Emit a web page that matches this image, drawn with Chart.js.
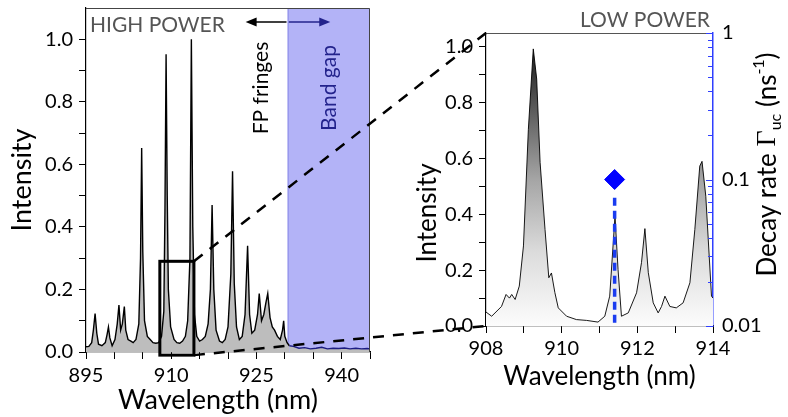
<!DOCTYPE html>
<html>
<head>
<meta charset="utf-8">
<script src="https://cdn.jsdelivr.net/npm/chart.js@4.4.1/dist/chart.umd.min.js"></script>
<style>
  body { margin: 0; background: #fff; }
  #cadre { position: relative; width: 788px; height: 417px; }
  canvas { position: absolute; left: 0; top: 0; }
</style>
</head>
<body>
<div id="cadre">
  <canvas id="hautePuissance" width="788" height="417"></canvas>
  <canvas id="bassePuissance" width="788" height="417"></canvas>
</div>
<script>
// spectre a haute puissance (longueur d'onde en nm, intensite normalisee)
const lambdaHaute = [895.0, 895.5, 896.0, 896.3, 896.6, 896.9, 897.2, 897.8, 898.4, 898.7,
  898.95, 899.2, 899.6, 900.1, 900.5, 900.8, 901.1, 901.4, 901.75, 902.0,
  902.4, 902.9, 903.3, 903.8, 904.3, 904.6, 904.8, 905.0, 905.3, 905.8,
  906.3, 906.8, 907.3, 907.8, 908.3, 908.7, 908.9, 909.1, 909.3, 909.5,
  909.9, 910.5, 911.0, 911.5, 912.0, 912.5, 912.9, 913.3, 913.55, 913.8,
  914.1, 914.5, 915.0, 915.5, 916.0, 916.5, 916.9, 917.2, 917.5, 917.9,
  918.5, 919.0, 919.5, 920.0, 920.5, 920.8, 921.1, 921.5, 922.0, 922.5,
  923.0, 923.45, 923.8, 924.2, 924.7, 925.2, 925.5, 925.9, 926.3, 926.7,
  927.0, 927.4, 927.8, 928.2, 928.7, 929.2, 929.6, 929.8, 930.0, 930.4,
  930.8, 931.5, 932.5, 933.5, 934.5, 935.5, 936.5, 937.5, 938.5, 939.5,
  940.5, 941.5, 942.5, 943.5, 944.5, 945.0];
const intensiteHaute = [0.017, 0.018, 0.03, 0.07, 0.123, 0.06, 0.025, 0.02, 0.03, 0.055,
  0.08, 0.045, 0.02, 0.04, 0.09, 0.15, 0.07, 0.09, 0.145, 0.07,
  0.04, 0.035, 0.03, 0.04, 0.09, 0.3, 0.652, 0.32, 0.1, 0.05,
  0.04, 0.03, 0.028, 0.03, 0.05, 0.13, 0.45, 0.952, 0.5, 0.2,
  0.08, 0.04, 0.03, 0.028, 0.035, 0.05, 0.1, 0.3, 1.0, 0.4,
  0.12, 0.05, 0.035, 0.04, 0.05, 0.09, 0.2, 0.47, 0.2, 0.07,
  0.035, 0.03, 0.04, 0.08, 0.25, 0.578, 0.22, 0.08, 0.04, 0.05,
  0.12, 0.34, 0.12, 0.06, 0.07, 0.12, 0.187, 0.1, 0.12, 0.16,
  0.187, 0.11, 0.08, 0.07, 0.05, 0.04, 0.07, 0.10, 0.05, 0.03,
  0.02, 0.018, 0.012, 0.014, 0.01, 0.012, 0.015, 0.01, 0.012, 0.011,
  0.013, 0.01, 0.012, 0.01, 0.011, 0.01];

// spectre a basse puissance (zoom 908-914 nm)
const lambdaBasse = [908.0, 908.15, 908.41, 908.53, 908.62, 908.68, 908.77, 908.88, 908.99, 909.12,
  909.25, 909.34, 909.43, 909.56, 909.66, 909.73, 909.82, 909.91, 910.13, 910.39,
  910.66, 910.96, 911.14, 911.27, 911.41, 911.49, 911.58, 911.76, 911.98, 912.11,
  912.2, 912.29, 912.42, 912.55, 912.64, 912.73, 912.86, 913.03, 913.21, 913.39,
  913.52, 913.65, 913.71, 913.81, 913.9, 913.96, 914.0];
const intensiteBasse = [0.05, 0.035, 0.07, 0.113, 0.10, 0.113, 0.095, 0.143, 0.287, 0.705,
  0.993, 0.885, 0.586, 0.346, 0.173, 0.19, 0.12, 0.065, 0.035, 0.023,
  0.02, 0.014, 0.035, 0.107, 0.394, 0.203, 0.035, 0.047, 0.119, 0.227,
  0.349, 0.191, 0.083, 0.047, 0.07, 0.107, 0.07, 0.065, 0.083, 0.155,
  0.346, 0.573, 0.59, 0.465, 0.25, 0.107, 0.1];

// taux de decroissance mesure (axe log de droite)
const lambdaMode = [911.4];
const tauxMode = [0.1];
const tauxBarre = [0.075, 0.01];

// graduations et etiquettes
const graduationsX1 = [895, 900, 905, 910, 915, 920, 925, 930, 935, 940, 945];
const etiquettesX1 = [895, 910, 925, 940];
const graduationsX2 = [908, 909, 910, 911, 912, 913, 914];
const etiquettesX2 = [908, 910, 912, 914];
const graduationsY = [0, 0.1, 0.2, 0.3, 0.4, 0.5, 0.6, 0.7, 0.8, 0.9, 1.0];
const etiquettesY = [0, 0.2, 0.4, 0.6, 0.8, 1.0];
const graduationsLog = [0.01, 0.02, 0.03, 0.04, 0.05, 0.06, 0.07, 0.08, 0.09,
  0.1, 0.2, 0.3, 0.4, 0.5, 0.6, 0.7, 0.8, 0.9, 1];
const etiquettesLog = [0.01, 0.1, 1];

// zones et annotations
const debutBandeInterdite = 930.5;
const fenetreZoom = [908, 914];
const fenetreIntensite = [-0.01, 0.29];
const flecheFP = [930.3, 923.1];
const flecheBande = [930.7, 938];

const police = 'Lato, "Open Sans", sans-serif';
Chart.defaults.font.family = police;
Chart.defaults.color = '#000';

// on force la taille des axes pour placer les zones de trace comme sur la figure
function tailleFixe(dim, val) {
    return s => {
        s[dim] = val;
        s.paddingTop = 0; s.paddingBottom = 0;
        s.paddingLeft = 0; s.paddingRight = 0;
    };
}

function fleche(ctx, x0, x1, y, couleur) {
    const dir = Math.sign(x1 - x0);
    ctx.strokeStyle = couleur;
    ctx.fillStyle = couleur;
    ctx.lineWidth = 1.5;
    ctx.beginPath();
    ctx.moveTo(x0, y);
    ctx.lineTo(x1 - dir * 8, y);
    ctx.stroke();
    ctx.beginPath();
    ctx.moveTo(x1, y);
    ctx.lineTo(x1 - dir * 11, y - 4.5);
    ctx.lineTo(x1 - dir * 11, y + 4.5);
    ctx.closePath();
    ctx.fill();
}

function texteVertical(ctx, texte, x, y, taille, couleur) {
    ctx.save();
    ctx.translate(x, y);
    ctx.rotate(-Math.PI / 2);
    ctx.font = taille + 'px ' + police;
    ctx.fillStyle = couleur;
    ctx.textAlign = 'center';
    ctx.textBaseline = 'middle';
    ctx.fillText(texte, 0, 0);
    ctx.restore();
}

const decorHaute = {
    id: 'decorHaute',
    beforeDatasetsDraw(chart) {
        const { ctx, chartArea, scales } = chart;
        const xb = scales.x.getPixelForValue(debutBandeInterdite);
        ctx.save();
        ctx.fillStyle = '#b3b3f7';
        ctx.fillRect(xb, chartArea.top, chartArea.right - xb, chartArea.bottom - chartArea.top);
        ctx.strokeStyle = '#8a8ae8';
        ctx.lineWidth = 1;
        ctx.beginPath();
        ctx.moveTo(xb + 0.5, chartArea.top);
        ctx.lineTo(xb + 0.5, chartArea.bottom);
        ctx.stroke();
        ctx.restore();
    },
    afterDraw(chart) {
        const { ctx, chartArea, scales } = chart;
        const x = scales.x, y = scales.y;
        ctx.save();
        // cadre haut et droit
        ctx.strokeStyle = '#444';
        ctx.lineWidth = 1;
        ctx.beginPath();
        ctx.moveTo(chartArea.left, chartArea.top + 0.5);
        ctx.lineTo(chartArea.right - 0.5, chartArea.top + 0.5);
        ctx.lineTo(chartArea.right - 0.5, chartArea.bottom);
        ctx.stroke();

        // rectangle de la zone agrandie
        ctx.strokeStyle = '#000';
        ctx.lineWidth = 3;
        const rx0 = x.getPixelForValue(fenetreZoom[0]), rx1 = x.getPixelForValue(fenetreZoom[1]);
        const ry0 = y.getPixelForValue(fenetreIntensite[1]), ry1 = y.getPixelForValue(fenetreIntensite[0]);
        ctx.strokeRect(rx0, ry0, rx1 - rx0, ry1 - ry0);

        // textes
        ctx.font = '21px ' + police;
        ctx.fillStyle = '#555';
        ctx.textAlign = 'left';
        ctx.textBaseline = 'middle';
        ctx.fillText('HIGH POWER', chartArea.left + 4, chartArea.top + 17);

        const yFleche = chartArea.top + 14;
        fleche(ctx, x.getPixelForValue(flecheFP[0]), x.getPixelForValue(flecheFP[1]), yFleche, '#000');
        fleche(ctx, x.getPixelForValue(flecheBande[0]), x.getPixelForValue(flecheBande[1]), yFleche, '#23238c');

        texteVertical(ctx, 'FP fringes', x.getPixelForValue(925.9), chartArea.top + 80, 21, '#000');
        texteVertical(ctx, 'Band gap', x.getPixelForValue(937.9), chartArea.top + 80, 21, '#23238c');

        ctx.font = '27px ' + police;
        ctx.fillStyle = '#000';
        ctx.textAlign = 'center';
        ctx.fillText('Wavelength (nm)', (chartArea.left + chartArea.right) / 2 - 10, chartArea.bottom + 48);
        ctx.restore();
    }
};

const graph1 = new Chart(document.getElementById('hautePuissance'), {
    type: 'line',
    data: {
        datasets: [{
            data: lambdaHaute.map((l, i) => ({ x: l, y: intensiteHaute[i] })),
            borderColor: '#000',
            borderWidth: 1.4,
            backgroundColor: '#bdbdbd',
            fill: 'origin',
            pointRadius: 0,
            tension: 0,
            segment: {
                borderColor: c => c.p0.parsed.x >= debutBandeInterdite ? '#1c1c84' : '#000'
            }
        }]
    },
    options: {
        responsive: false,
        animation: false,
        layout: { padding: { left: 0, top: 8, right: 418, bottom: 0 } },
        plugins: { legend: { display: false }, tooltip: { enabled: false } },
        scales: {
            x: {
                type: 'linear', min: 895, max: 945,
                afterBuildTicks: s => { s.ticks = graduationsX1.map(v => ({ value: v })); },
                afterFit: tailleFixe('height', 65),
                ticks: {
                    autoSkip: false, maxRotation: 0, padding: 5, font: { size: 20 },
                    callback: v => etiquettesX1.includes(v) ? String(v) : ''
                },
                grid: { drawOnChartArea: false, tickLength: 7, color: '#000' },
                border: { color: '#000', width: 1.2 }
            },
            y: {
                min: 0, max: 1.1,
                afterBuildTicks: s => { s.ticks = graduationsY.map(v => ({ value: v })); },
                afterFit: tailleFixe('width', 86),
                ticks: {
                    autoSkip: false, padding: 6, font: { size: 20 },
                    callback: v => etiquettesY.includes(v) ? v.toFixed(1) : ''
                },
                grid: { drawOnChartArea: false, tickLength: 7, color: '#000' },
                border: { color: '#000', width: 1.2 },
                title: { display: true, text: 'Intensity', font: { size: 27 }, padding: { top: 6 } }
            }
        }
    },
    plugins: [decorHaute]
});

const decorBasse = {
    id: 'decorBasse',
    afterDraw(chart) {
        const { ctx, chartArea, scales } = chart;
        ctx.save();
        // cadre haut gris
        ctx.strokeStyle = '#555';
        ctx.lineWidth = 1;
        ctx.beginPath();
        ctx.moveTo(chartArea.left, chartArea.top + 0.5);
        ctx.lineTo(chartArea.right, chartArea.top + 0.5);
        ctx.stroke();

        // graduations interieures de l'axe log
        const s = scales.y2;
        ctx.strokeStyle = '#2f3fff';
        s.ticks.forEach(t => {
            const py = Math.round(s.getPixelForValue(t.value)) + 0.5;
            const long = etiquettesLog.includes(t.value) ? 7 : 5;
            ctx.beginPath();
            ctx.moveTo(s.left, py);
            ctx.lineTo(s.left - long, py);
            ctx.stroke();
        });

        ctx.font = '21px ' + police;
        ctx.fillStyle = '#555';
        ctx.textAlign = 'right';
        ctx.textBaseline = 'middle';
        ctx.fillText('LOW POWER', chartArea.right - 3, chartArea.top - 13);

        texteVertical(ctx, 'Intensity', chartArea.left - 58, chartArea.top + 180, 26, '#000');

        // titre de l'axe de droite avec indice et exposant
        const morceaux = [
            { t: 'Decay rate ', f: '26px ' + police, dy: 0 },
            { t: 'Γ', f: '28px "Liberation Serif", serif', dy: 0 },
            { t: 'uc', f: '16px ' + police, dy: 8 },
            { t: ' (ns', f: '26px ' + police, dy: 0 },
            { t: '-1', f: '16px ' + police, dy: -9 },
            { t: ')', f: '26px ' + police, dy: 0 }
        ];
        ctx.translate(chartArea.right + 55, (chartArea.top + chartArea.bottom) / 2 - 15);
        ctx.rotate(-Math.PI / 2);
        ctx.textAlign = 'left';
        ctx.fillStyle = '#000';
        let total = 0;
        morceaux.forEach(m => { ctx.font = m.f; m.w = ctx.measureText(m.t).width; total += m.w; });
        let px = -total / 2;
        morceaux.forEach(m => { ctx.font = m.f; ctx.fillText(m.t, px, m.dy); px += m.w; });
        ctx.restore();

        // lignes pointillees reliant le rectangle au zoom
        const x1 = graph1.scales.x, y1 = graph1.scales.y;
        const xa = x1.getPixelForValue(fenetreZoom[1]);
        ctx.save();
        ctx.strokeStyle = '#000';
        ctx.lineWidth = 2.5;
        ctx.setLineDash([11, 9]);
        ctx.beginPath();
        ctx.moveTo(xa, y1.getPixelForValue(fenetreIntensite[1]));
        ctx.lineTo(scales.x.getPixelForValue(fenetreZoom[0]), chartArea.top);
        ctx.moveTo(xa, y1.getPixelForValue(fenetreIntensite[0]));
        ctx.lineTo(scales.x.getPixelForValue(fenetreZoom[0]), scales.y.getPixelForValue(0));
        ctx.stroke();
        ctx.restore();
    }
};

new Chart(document.getElementById('bassePuissance'), {
    type: 'line',
    data: {
        datasets: [{
            data: lambdaMode.map((l, i) => ({ x: l, y: tauxMode[i] })),
            yAxisID: 'y2',
            showLine: false,
            pointStyle: 'rectRot',
            pointRadius: 10,
            pointBackgroundColor: '#0000ff',
            pointBorderColor: '#0000ff'
        }, {
            data: tauxBarre.map(t => ({ x: lambdaMode[0], y: t })),
            yAxisID: 'y2',
            borderColor: '#1a3cf0',
            borderWidth: 3.5,
            borderDash: [8, 5],
            pointRadius: 0
        }, {
            data: lambdaBasse.map((l, i) => ({ x: l, y: intensiteBasse[i] })),
            yAxisID: 'y',
            borderColor: '#000',
            borderWidth: 0.9,
            pointRadius: 0,
            tension: 0,
            fill: 'origin',
            backgroundColor: context => {
                const { ctx, chartArea } = context.chart;
                if (!chartArea) return 'rgba(0,0,0,0)';
                const g = ctx.createLinearGradient(0, chartArea.top, 0, chartArea.bottom);
                g.addColorStop(0, '#111');
                g.addColorStop(0.13, '#333');
                g.addColorStop(0.5, '#a5a5a5');
                g.addColorStop(0.75, '#dcdcdc');
                g.addColorStop(1, '#fcfcfc');
                return g;
            }
        }]
    },
    options: {
        responsive: false,
        animation: false,
        layout: { padding: { left: 400, top: 33, right: 0, bottom: 0 } },
        plugins: { legend: { display: false }, tooltip: { enabled: false } },
        scales: {
            x: {
                type: 'linear', min: 908, max: 914,
                afterBuildTicks: s => { s.ticks = graduationsX2.map(v => ({ value: v })); },
                afterFit: tailleFixe('height', 91),
                ticks: {
                    autoSkip: false, maxRotation: 0, padding: 4, font: { size: 20 },
                    callback: v => etiquettesX2.includes(v) ? String(v) : ''
                },
                grid: { drawOnChartArea: false, tickLength: 7, color: '#000' },
                border: { color: '#000', width: 1.2 },
                title: { display: true, text: 'Wavelength (nm)', font: { size: 26 }, padding: { bottom: 25 } }
            },
            y: {
                position: 'left', min: 0, max: 1.05,
                afterBuildTicks: s => { s.ticks = graduationsY.map(v => ({ value: v })); },
                afterFit: tailleFixe('width', 86),
                ticks: {
                    autoSkip: false, padding: 6, font: { size: 20 },
                    callback: v => etiquettesY.includes(v) ? v.toFixed(1) : ''
                },
                grid: { drawOnChartArea: false, tickLength: 7, color: '#000' },
                border: { color: '#000', width: 1.2 }
            },
            y2: {
                type: 'logarithmic', position: 'right', min: 0.01, max: 1,
                afterBuildTicks: s => { s.ticks = graduationsLog.map(v => ({ value: v })); },
                afterFit: tailleFixe('width', 75),
                ticks: {
                    autoSkip: false, padding: 9, font: { size: 20 },
                    callback: v => etiquettesLog.includes(v) ? String(v) : ''
                },
                grid: { drawOnChartArea: false, drawTicks: false },
                border: { color: '#2f3fff', width: 1.5 }
            }
        }
    },
    plugins: [decorBasse]
});
</script>
</body>
</html>
